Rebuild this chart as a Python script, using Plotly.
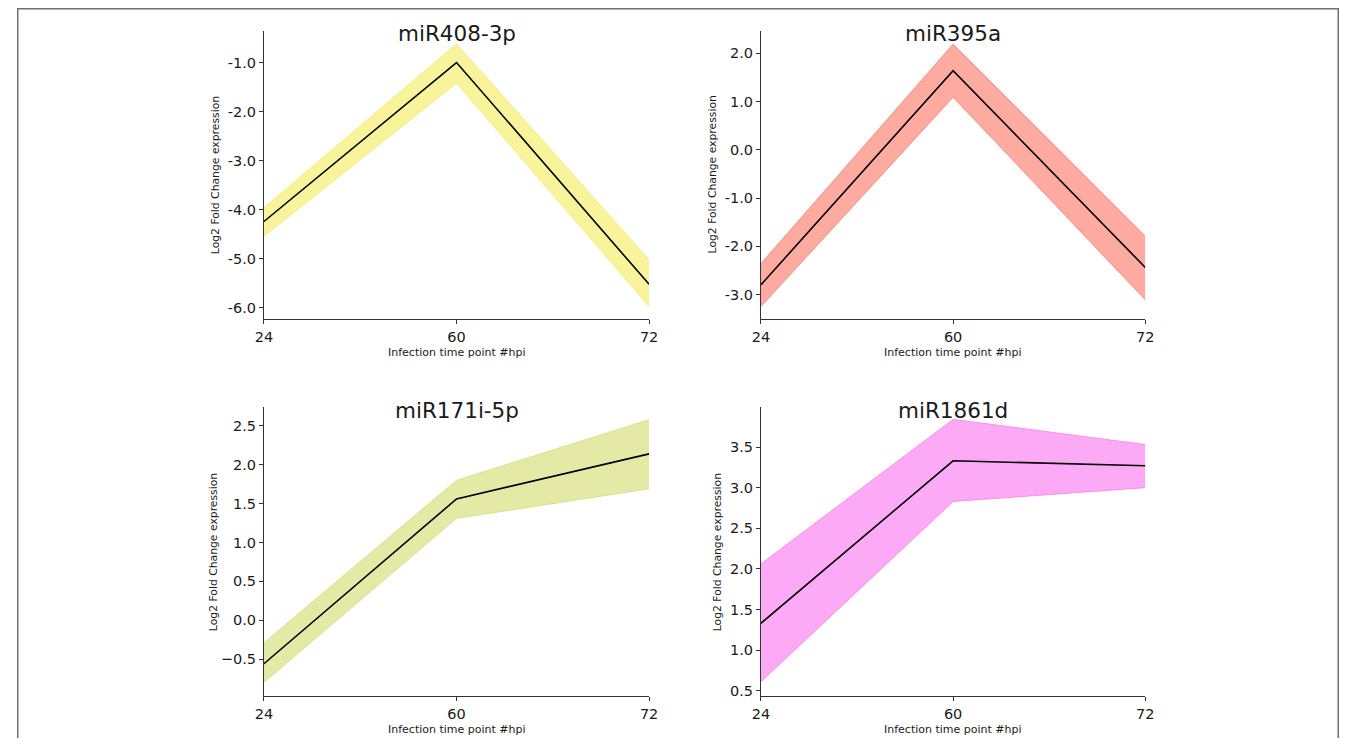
import plotly.graph_objects as go

# figure fits inside the 1356x746 window with the page's 8px body margin
W, H = 1340, 730
OFF = 8  # page margin: reference pixel -> figure pixel

timepoints = ["24", "60", "72"]

titles = ["miR408-3p", "miR395a", "miR171i-5p", "miR1861d"]

mean_408 = [-4.24, -1.00, -5.52]
upper_408 = [-3.96, -0.62, -5.02]
lower_408 = [-4.54, -1.42, -5.97]

mean_395 = [-2.80, 1.64, -2.44]
upper_395 = [-2.36, 2.19, -1.79]
lower_395 = [-3.25, 1.09, -3.11]

mean_171 = [-0.56, 1.56, 2.14]
upper_171 = [-0.29, 1.80, 2.58]
lower_171 = [-0.80, 1.31, 1.69]

mean_1861 = [1.33, 3.33, 3.27]
upper_1861 = [2.06, 3.84, 3.53]
lower_1861 = [0.61, 2.83, 3.00]

fill_colors = ["#f9f49c", "#fdaaa1", "#e4e9a5", "#fdaaf6"]
edge_colors = ["#f4ec7a", "#f88d82", "#dce18f", "#f98cf0"]

y_ranges = [[-6.23, -0.35], [-3.51, 2.47], [-0.98, 2.74], [0.43, 3.99]]
y_tickvals = [
    [-6, -5, -4, -3, -2, -1],
    [-3, -2, -1, 0, 1, 2],
    [-0.5, 0.0, 0.5, 1.0, 1.5, 2.0, 2.5],
    [0.5, 1.0, 1.5, 2.0, 2.5, 3.0, 3.5],
]
y_ticktext = [
    ["-6.0", "-5.0", "-4.0", "-3.0", "-2.0", "-1.0"],
    ["-3.0", "-2.0", "-1.0", "0.0", "1.0", "2.0"],
    ["\u22120.5", "0.0", "0.5", "1.0", "1.5", "2.0", "2.5"],
    ["0.5", "1.0", "1.5", "2.0", "2.5", "3.0", "3.5"],
]

series = [
    (mean_408, upper_408, lower_408),
    (mean_395, upper_395, lower_395),
    (mean_171, upper_171, lower_171),
    (mean_1861, upper_1861, lower_1861),
]

# panel geometry in reference-page pixels (left, right, top, bottom)
panels_px = [
    (258.3, 648.7, 30.7, 320.0),
    (762.0, 1151.7, 30.7, 320.0),
    (258.3, 648.7, 408.3, 698.3),
    (762.0, 1151.7, 408.3, 698.3),
]
ytitle_x = [210, 713, 207, 718]


def px(x):
    return (x - OFF) / W


def py(y):
    return 1 - (y - OFF) / H


FONT = "DejaVu Sans"
TXT = "#1a1a1a"

fig = go.Figure()
annotations = []
layout_axes = {}

for i, ((m, u, l), (x0, x1, yt, yb)) in enumerate(zip(series, panels_px)):
    n = i + 1
    xa = "x" if n == 1 else f"x{n}"
    ya = "y" if n == 1 else f"y{n}"
    fig.add_trace(go.Scatter(x=timepoints, y=u, xaxis=xa, yaxis=ya, mode="lines",
                             line=dict(color=edge_colors[i], width=1), showlegend=False,
                             hoverinfo="skip"))
    fig.add_trace(go.Scatter(x=timepoints, y=l, xaxis=xa, yaxis=ya, mode="lines",
                             line=dict(color=edge_colors[i], width=1), fill="tonexty",
                             fillcolor=fill_colors[i], showlegend=False, hoverinfo="skip"))
    fig.add_trace(go.Scatter(x=timepoints, y=m, xaxis=xa, yaxis=ya, mode="lines",
                             line=dict(color="black", width=1.6), showlegend=False))

    xkey = "xaxis" if n == 1 else f"xaxis{n}"
    ykey = "yaxis" if n == 1 else f"yaxis{n}"
    layout_axes[xkey] = dict(
        domain=[px(x0), px(x1)], anchor=ya, type="category", range=[0, 2],
        showgrid=False, zeroline=False, showline=True, linecolor="#333333", linewidth=1,
        ticks="outside", ticklen=4, tickwidth=1, tickcolor="#333333",
        tickfont=dict(family=FONT, size=14.5, color=TXT),
    )
    layout_axes[ykey] = dict(
        domain=[py(yb), py(yt)], anchor=xa, range=y_ranges[i],
        tickmode="array", tickvals=y_tickvals[i], ticktext=y_ticktext[i],
        showgrid=False, zeroline=False, showline=True, linecolor="#333333", linewidth=1,
        ticks="outside", ticklen=4, tickwidth=1, tickcolor="#333333",
        tickfont=dict(family=FONT, size=14.5, color=TXT),
    )
    cx = px((x0 + x1) / 2)
    annotations.append(dict(text=titles[i], x=cx, y=py(yt + 3), xref="paper", yref="paper",
                            xanchor="center", yanchor="middle", showarrow=False,
                            font=dict(family=FONT, size=21.5, color=TXT)))
    annotations.append(dict(text="Infection time point #hpi", x=cx, y=py(yb + 33),
                            xref="paper", yref="paper", xanchor="center", yanchor="middle",
                            showarrow=False, font=dict(family=FONT, size=11, color=TXT)))
    annotations.append(dict(text="Log2 Fold Change expression", x=px(ytitle_x[i]),
                            y=py((yt + yb) / 2), xref="paper", yref="paper",
                            xanchor="center", yanchor="middle", textangle=-90, showarrow=False,
                            font=dict(family=FONT, size=10.8, color=TXT)))

fig.update_layout(
    width=W, height=H,
    margin=dict(l=0, r=0, t=0, b=0),
    paper_bgcolor="white", plot_bgcolor="white",
    annotations=annotations,
    shapes=[dict(type="rect", xref="paper", yref="paper",
                 x0=0.75 / W, x1=1 - 0.75 / W, y0=-0.05, y1=1 - 0.75 / H,
                 line=dict(color="#707070", width=1.5))],
    **layout_axes,
)

fig.write_html("out.html")
